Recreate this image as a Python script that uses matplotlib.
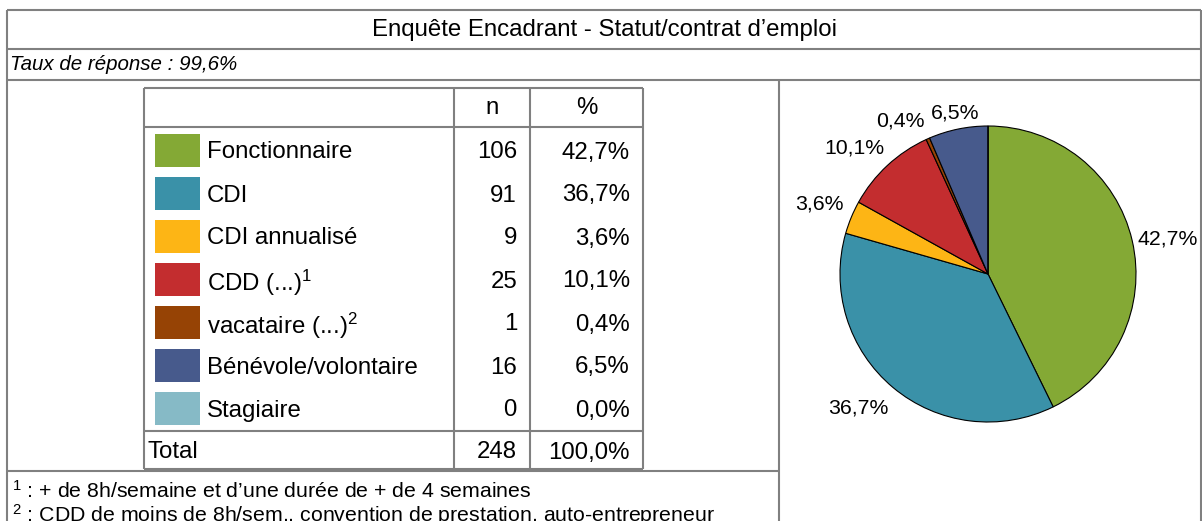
import numpy as np
import matplotlib.pyplot as plt
from matplotlib.patches import Rectangle

plt.rcParams['font.family'] = ['Liberation Sans', 'DejaVu Sans']
plt.rcParams['mathtext.fontset'] = 'custom'
plt.rcParams['mathtext.rm'] = 'Liberation Sans'
plt.rcParams['mathtext.it'] = 'Liberation Sans:italic'

title = "Enquête Encadrant - Statut/contrat d’emploi"
subtitle = "Taux de réponse : 99,6%"
categories = ["Fonctionnaire", "CDI", "CDI annualisé", "CDD (...)$^{1}$",
              "vacataire (...)$^{2}$", "Bénévole/volontaire", "Stagiaire"]
counts = [106, 91, 9, 25, 1, 16, 0]
percents = [42.7, 36.7, 3.6, 10.1, 0.4, 6.5, 0.0]
colors = ["#84A935", "#3A91A8", "#FDB515", "#C32D2F", "#964305", "#475A8C", "#86BAC6"]
footnotes = ["$^{1}$ : + de 8h/semaine et d’une durée de + de 4 semaines",
             "$^{2}$ : CDD de moins de 8h/sem., convention de prestation, auto-entrepreneur"]

# where the pie labels sit (radius multiple, angle nudge in degrees)
label_dist = [1.24, 1.26, 1.23, 1.24, 1.19, 1.11, 1.2]
label_nudge = [-2, -4, 0, 4, 6, 0, 0]


def fmt(p):
    return f"{p:.1f}".replace(".", ",") + "%"


W, H = 1202, 521
fig = plt.figure(figsize=(W / 100, H / 100), dpi=100)
ax = fig.add_axes([0, 0, 1, 1])
ax.set_xlim(0, W)
ax.set_ylim(H, 0)
ax.axis("off")

grey = "#808080"
lw = 1.5


def hline(y, x0, x1):
    ax.plot([x0, x1], [y, y], color=grey, lw=lw, solid_capstyle="butt")


def vline(x, y0, y1):
    ax.plot([x, x], [y0, y1], color=grey, lw=lw, solid_capstyle="butt")


# outer frame
hline(10, 7, 1201)
hline(49, 7, 1201)
hline(80, 7, 1201)
vline(7, 10, H)
vline(1201, 10, H)
vline(779, 80, H)
hline(471, 7, 779)

fs = 17.3
ax.text(604, 30, title, ha="center", va="center", fontsize=fs)
ax.text(10, 65, subtitle, ha="left", va="center", fontsize=14.8, style="italic")

# table
tx0, tx1 = 144, 643
c1, c2 = 454, 530
top, head_b = 88, 127
row_h = 43
first = 150
tot_top = 431
tab_b = 469

hline(top, tx0, tx1)
hline(head_b, tx0, tx1)
hline(tot_top, tx0, tx1)
hline(tab_b, tx0, tx1)
for x in (tx0, c1, c2, tx1):
    vline(x, top, tab_b)

ax.text((c1 + c2) / 2, (top + head_b) / 2, "n", ha="center", va="center", fontsize=fs)
ax.text((c2 + tx1) / 2, (top + head_b) / 2, "%", ha="center", va="center", fontsize=fs)

for i, (cat, n, p, col) in enumerate(zip(categories, counts, percents, colors)):
    y = first + i * row_h
    ax.add_patch(Rectangle((155, y - 16.5), 45, 33, color=col, lw=0))
    ax.text(207, y, cat, ha="left", va="center_baseline", fontsize=fs)
    ax.text(517, y, str(n), ha="right", va="center_baseline", fontsize=fs)
    ax.text(630, y, fmt(p), ha="right", va="center_baseline", fontsize=fs)

ty = (tot_top + tab_b) / 2
ax.text(148, ty, "Total", ha="left", va="center_baseline", fontsize=fs)
ax.text(517, ty, str(sum(counts)), ha="right", va="center_baseline", fontsize=fs)
ax.text(630, ty, fmt(100.0), ha="right", va="center_baseline", fontsize=fs)

ax.text(12, 489, footnotes[0], ha="left", va="center_baseline", fontsize=15.3)
ax.text(12, 512, footnotes[1], ha="left", va="center_baseline", fontsize=15.3)

# pie
cx, cy, r = 988, 274, 148
pax = fig.add_axes([(cx - r) / W, 1 - (cy + r) / H, 2 * r / W, 2 * r / H])
labels = [fmt(p) if n > 0 else "" for n, p in zip(counts, percents)]
wedges, texts = pax.pie(counts, colors=colors, startangle=90, counterclock=False,
                        labels=labels,
                        wedgeprops=dict(edgecolor="black", linewidth=0.8),
                        textprops=dict(fontsize=15.3))
pax.set_xlim(-1, 1)
pax.set_ylim(-1, 1)
pax.set_aspect("equal")
pax.axis("off")

for w, t, d, nd in zip(wedges, texts, label_dist, label_nudge):
    ang = np.deg2rad((w.theta1 + w.theta2) / 2 + nd)
    t.set_ha("center")
    t.set_va("center")
    t.set_position((d * np.cos(ang), d * np.sin(ang)))

fig.savefig("out.png", dpi=100)
